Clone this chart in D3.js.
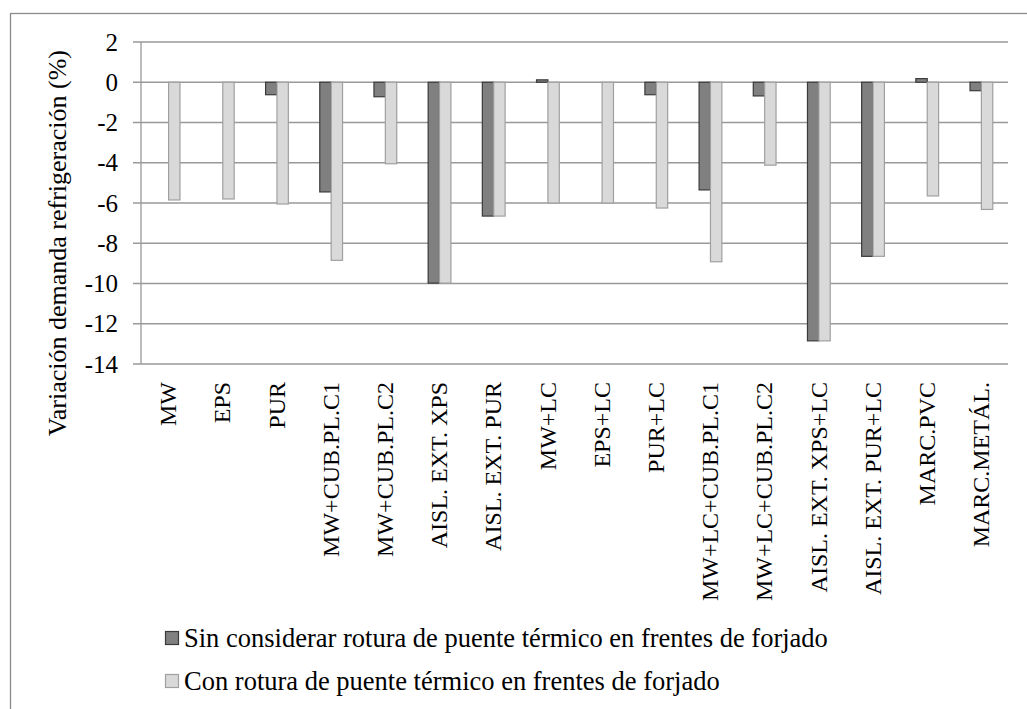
<!DOCTYPE html>
<html>
<head>
<meta charset="utf-8">
<script src="https://cdn.jsdelivr.net/npm/d3@7/dist/d3.min.js"></script>
<style>
  html, body { margin: 0; padding: 0; background: #fff; }
  svg { display: block; }
</style>
</head>
<body>
<svg id="chart" width="1027" height="709" font-family="'Liberation Serif', 'Times New Roman', 'DejaVu Serif', serif"></svg>
<script>
// Categories (insulation solutions)
const categories = [
  "MW", "EPS", "PUR", "MW+CUB.PL.C1", "MW+CUB.PL.C2",
  "AISL. EXT. XPS", "AISL. EXT. PUR", "MW+LC", "EPS+LC", "PUR+LC",
  "MW+LC+CUB.PL.C1", "MW+LC+CUB.PL.C2", "AISL. EXT. XPS+LC",
  "AISL. EXT. PUR+LC", "MARC.PVC", "MARC.METÁL."
];

// Series: cooling demand variation (%)
const seriesNames = [
  "Sin considerar rotura de puente térmico en frentes de forjado",
  "Con rotura de puente térmico en frentes de forjado"
];
const sinRotura = [0, 0, -0.62, -5.45, -0.72, -9.98, -6.65, 0.12, 0, -0.62, -5.35, -0.68, -12.85, -8.65, 0.18, -0.42];
const conRotura = [-5.85, -5.8, -6.05, -8.85, -4.05, -9.98, -6.65, -6.0, -6.0, -6.25, -8.92, -4.12, -12.85, -8.65, -5.65, -6.32];

// Y axis ticks
const yTicks = [2, 0, -2, -4, -6, -8, -10, -12, -14];
const yTitle = "Variación demanda refrigeración (%)";

const svg = d3.select("#chart");

// Chart frame
svg.append("rect")
  .attr("x", 10.5).attr("y", 13.5)
  .attr("width", 1030).attr("height", 720)
  .attr("fill", "none").attr("stroke", "#8c8c8c").attr("stroke-width", 1.3);

const plot = { left: 141, right: 1008, top: 42, bottom: 364 };

const x = d3.scaleBand()
  .domain(categories)
  .range([plot.left, plot.right])
  .paddingInner(0).paddingOuter(0);

const y = d3.scaleLinear()
  .domain([-14, 2])
  .range([plot.bottom, plot.top]);

const barW = x.bandwidth() * 0.21;

// Gridlines (extend left as tick marks)
svg.append("g").selectAll("line")
  .data(yTicks)
  .join("line")
  .attr("x1", plot.left - 8).attr("x2", plot.right)
  .attr("y1", d => y(d)).attr("y2", d => y(d))
  .attr("stroke", "#999").attr("stroke-width", 1.3);

// Y axis line
svg.append("line")
  .attr("x1", plot.left).attr("x2", plot.left)
  .attr("y1", plot.top).attr("y2", plot.bottom)
  .attr("stroke", "#999").attr("stroke-width", 1.3);

// Y tick labels
svg.append("g").selectAll("text")
  .data(yTicks)
  .join("text")
  .attr("x", 118).attr("y", d => y(d))
  .attr("dy", "0.34em")
  .attr("text-anchor", "end")
  .attr("font-size", 25)
  .text(d => d);

// Y axis title (reads bottom to top, ends near the top of the plot)
svg.append("text")
  .attr("transform", "translate(66,50) rotate(-90)")
  .attr("text-anchor", "end")
  .attr("font-size", 26)
  .text(yTitle);

// Bars
const series = [
  { name: seriesNames[0], values: sinRotura, fill: "#808080", stroke: "#3a3a3a", offset: -1 },
  { name: seriesNames[1], values: conRotura, fill: "#d9d9d9", stroke: "#a0a0a0", offset: 0 }
];

series.forEach(s => {
  svg.append("g").selectAll("rect")
    .data(categories.map((c, i) => ({ c, v: s.values[i] })))
    .join("rect")
    .attr("x", d => x(d.c) + x.bandwidth() / 2 + s.offset * barW + 0.5)
    .attr("y", d => Math.min(y(0), y(d.v)))
    .attr("width", barW)
    .attr("height", d => Math.abs(y(d.v) - y(0)))
    .attr("fill", s.fill)
    .attr("stroke", d => d.v === 0 ? "none" : s.stroke)
    .attr("stroke-width", 1.2);
});

// Category labels (rotated)
svg.append("g").selectAll("text")
  .data(categories)
  .join("text")
  .attr("transform", d => `translate(${x(d) + x.bandwidth() / 2},382) rotate(-90)`)
  .attr("text-anchor", "end")
  .attr("dy", "0.34em")
  .attr("font-size", 24)
  .text(d => d);

// Legend
const legend = svg.append("g");
series.forEach((s, i) => {
  const base = 647 + i * 43;
  legend.append("rect")
    .attr("x", 165.5).attr("y", base - 15.5)
    .attr("width", 13).attr("height", 13)
    .attr("fill", s.fill).attr("stroke", s.stroke).attr("stroke-width", 1.2);
  legend.append("text")
    .attr("x", 184).attr("y", base)
    .attr("font-size", 26.5)
    .text(s.name);
});
</script>
</body>
</html>
